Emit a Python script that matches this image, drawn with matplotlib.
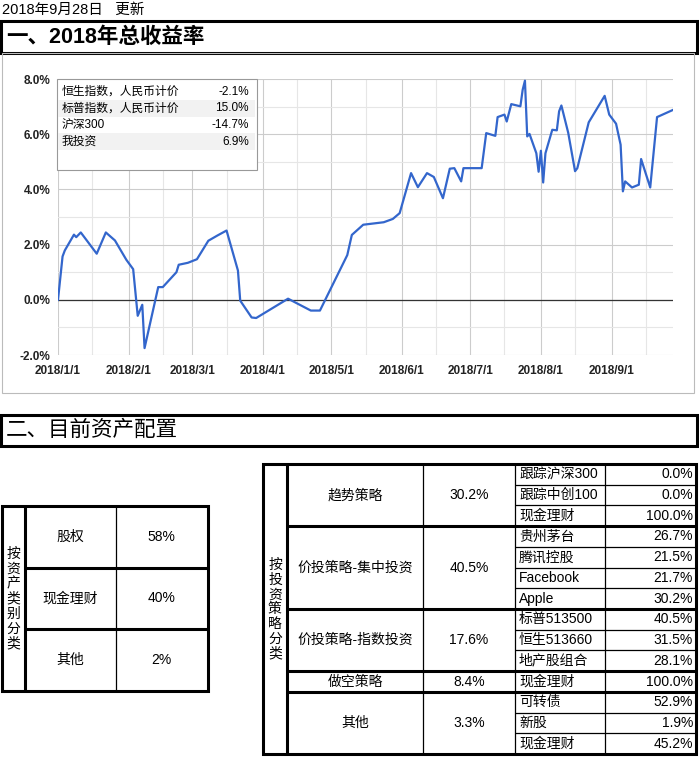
import numpy as np
import pandas as pd
import matplotlib
matplotlib.use("Agg")
import matplotlib.pyplot as plt
from matplotlib.patches import Rectangle

plt.rcParams["font.family"] = ["Liberation Sans", "Noto Sans CJK SC", "DejaVu Sans"]

# ---- data ----
update_text = "2018年9月28日   更新"
title_1 = "一、2018年总收益率"
title_2 = "二、目前资产配置"

dates = [
    "2018-01-01", "2018-01-03", "2018-01-04", "2018-01-08", "2018-01-09", "2018-01-11",
    "2018-01-18", "2018-01-22", "2018-01-26", "2018-01-31", "2018-02-03", "2018-02-05",
    "2018-02-07", "2018-02-08", "2018-02-14", "2018-02-16", "2018-02-22", "2018-02-23",
    "2018-02-27", "2018-03-03", "2018-03-08", "2018-03-12", "2018-03-16", "2018-03-21",
    "2018-03-22", "2018-03-27", "2018-03-29", "2018-04-12", "2018-04-22", "2018-04-26",
    "2018-05-08", "2018-05-10", "2018-05-15", "2018-05-24", "2018-05-28", "2018-05-31",
    "2018-06-05", "2018-06-08", "2018-06-12", "2018-06-15", "2018-06-19", "2018-06-22",
    "2018-06-24", "2018-06-27", "2018-06-28", "2018-07-06", "2018-07-08", "2018-07-12",
    "2018-07-13", "2018-07-16", "2018-07-17", "2018-07-19", "2018-07-23", "2018-07-24",
    "2018-07-25", "2018-07-26", "2018-07-27", "2018-07-30", "2018-07-31", "2018-08-01",
    "2018-08-02", "2018-08-03", "2018-08-06", "2018-08-08", "2018-08-09", "2018-08-10",
    "2018-08-13", "2018-08-16", "2018-08-17", "2018-08-22", "2018-08-29", "2018-08-31",
    "2018-09-03", "2018-09-05", "2018-09-06", "2018-09-07", "2018-09-10", "2018-09-13",
    "2018-09-14", "2018-09-18", "2018-09-21", "2018-09-28",
]
returns = [
    0.00, 1.57, 1.79, 2.36, 2.27, 2.44,
    1.67, 2.44, 2.15, 1.45, 1.11, -0.58,
    -0.18, -1.75, 0.46, 0.46, 1.00, 1.27,
    1.34, 1.47, 2.14, 2.33, 2.51, 1.06,
    -0.03, -0.64, -0.66, 0.04, -0.39, -0.39,
    1.62, 2.35, 2.72, 2.81, 2.93, 3.14,
    4.59, 4.08, 4.59, 4.45, 3.68, 4.75,
    4.77, 4.29, 4.77, 4.77, 6.04, 5.94,
    6.62, 6.71, 6.46, 7.09, 7.01, 7.61,
    7.94, 5.92, 6.01, 5.31, 4.64, 5.40,
    4.25, 5.31, 6.16, 6.14, 6.83, 7.04,
    6.05, 4.66, 4.77, 6.43, 7.39, 6.71,
    6.38, 5.62, 3.93, 4.29, 4.07, 4.17,
    5.10, 4.07, 6.62, 6.88,
]

legend_names = ["恒生指数，人民币计价", "标普指数，人民币计价", "沪深300", "我投资"]
legend_values = ["-2.1%", "15.0%", "-14.7%", "6.9%"]

asset_label = "按资产类别分类"
asset_names = ["股权", "现金理财", "其他"]
asset_pcts = ["58%", "40%", "2%"]

strategy_label = "按投资策略分类"
strategy_names = ["趋势策略", "价投策略-集中投资", "价投策略-指数投资", "做空策略", "其他"]
strategy_pcts = ["30.2%", "40.5%", "17.6%", "8.4%", "3.3%"]
sub_names = [
    ["跟踪沪深300", "跟踪中创100", "现金理财"],
    ["贵州茅台", "腾讯控股", "Facebook", "Apple"],
    ["标普513500", "恒生513660", "地产股组合"],
    ["现金理财"],
    ["可转债", "新股", "现金理财"],
]
sub_pcts = [
    ["0.0%", "0.0%", "100.0%"],
    ["26.7%", "21.5%", "21.7%", "30.2%"],
    ["40.5%", "31.5%", "28.1%"],
    ["100.0%"],
    ["52.9%", "1.9%", "45.2%"],
]

# ---- layout (pixels) ----
W, H = 699, 759
THICK = 2.2
THIN = 0.9

fig = plt.figure(figsize=(W / 100, H / 100), dpi=100)
bg = fig.add_axes([0, 0, 1, 1])
bg.set_xlim(0, W)
bg.set_ylim(H, 0)
bg.axis("off")


def box(ax, x0, y0, x1, y1, lw, color="black", fill=False, fc="white"):
    ax.add_patch(Rectangle((x0, y0), x1 - x0, y1 - y0, fill=fill, fc=fc,
                           lw=lw, ec=color))


def hline(ax, y, x0, x1, lw):
    ax.plot([x0, x1], [y, y], color="black", lw=lw, solid_capstyle="butt")


def vline(ax, x, y0, y1, lw):
    ax.plot([x, x], [y0, y1], color="black", lw=lw, solid_capstyle="butt")


def vertical_text(ax, x, yc, s, step, size):
    n = len(s)
    for i, ch in enumerate(s):
        ax.text(x, yc + (i - (n - 1) / 2) * step, ch, ha="center", va="center",
                fontsize=size)


# header
bg.text(2, 10, update_text, fontsize=10.5, va="center")
box(bg, 1, 21, 697, 53, THICK)
bg.text(6, 37.5, title_1, fontsize=15.5, weight="bold", va="center")
box(bg, 2, 53, 694, 393, 0.8, color="#bbbbbb")

# ---- line chart ----
ax = fig.add_axes([58 / W, 1 - 355 / H, 615 / W, 276 / H])
d = pd.to_datetime(dates)
ax.set_xlim(pd.Timestamp("2018-01-01"), pd.Timestamp("2018-09-28"))
ax.set_ylim(-2, 8)
for m in range(1, 10):
    ax.axvline(pd.Timestamp(2018, m, 1), color="#cccccc", lw=0.8, zorder=0)
    ax.axvline(pd.Timestamp(2018, m, 16), color="#e6e6e6", lw=0.8, zorder=0)
for v in range(-2, 9):
    ax.axhline(v, color="#cccccc" if v % 2 == 0 else "#e6e6e6", lw=0.8, zorder=0)
ax.axhline(0, color="#333333", lw=0.9, zorder=1)
ax.plot(d, returns, color="#3366cc", lw=1.6, zorder=3)
for s in ax.spines.values():
    s.set_visible(False)
yt = [-2, 0, 2, 4, 6, 8]
ax.set_yticks(yt)
ax.set_yticklabels([f"{v:.1f}%" for v in yt])
xt = [pd.Timestamp(2018, m, 1) for m in range(1, 10)]
ax.set_xticks(xt)
ax.set_xticklabels([f"{t.year}/{t.month}/{t.day}" for t in xt])
ax.tick_params(length=0, labelsize=8.5, labelcolor="#222222")
ax.tick_params(axis="y", pad=5.5)
ax.tick_params(axis="x", pad=7)
for lab in ax.get_xticklabels() + ax.get_yticklabels():
    lab.set_fontweight("bold")

# ---- legend overlay ----
top = fig.add_axes([0, 0, 1, 1], facecolor="none")
top.set_xlim(0, W)
top.set_ylim(H, 0)
top.axis("off")
box(top, 57, 79, 257, 170, 0.8, color="#999999", fill=True)
row_h = 16.7
for i, (nm, val) in enumerate(zip(legend_names, legend_values)):
    y0 = 83.3 + i * row_h
    if i % 2 == 1:
        top.add_patch(Rectangle((58, y0), 197, row_h, fc="#f2f2f2", ec="none"))
    top.text(61.5, y0 + row_h / 2, nm, fontsize=8.5, va="center", ha="left")
    top.text(249, y0 + row_h / 2, val, fontsize=8.5, va="center", ha="right")

# ---- section 2 ----
box(bg, 1, 415, 697, 446, THICK)
bg.text(6, 430.5, title_2, fontsize=15.5, va="center")

# left table
lx0, lx1, lc1, lc2 = 1.5, 207.5, 25, 116
ly0, ly1 = 506, 691
lrow = (ly1 - ly0) / len(asset_names)
box(bg, lx0, ly0, lx1, ly1, THICK)
vline(bg, lc1, ly0, ly1, THICK)
vline(bg, lc2, ly0, ly1, THIN)
for i in range(1, len(asset_names)):
    hline(bg, ly0 + i * lrow, lc1, lx1, THICK)
vertical_text(bg, 13, (ly0 + ly1) / 2, asset_label, 15, 10)
for i, (nm, p) in enumerate(zip(asset_names, asset_pcts)):
    yc = ly0 + (i + 0.5) * lrow
    bg.text((lc1 + lc2) / 2, yc, nm, fontsize=10, ha="center", va="center")
    bg.text((lc2 + lx1) / 2, yc, p, fontsize=10, ha="center", va="center")

# right table
rx0, rx1 = 263, 696
rc1, rc2, rc3, rc4 = 287, 423, 515, 605
ry0, ry1 = 464, 754
n_rows = sum(len(s) for s in sub_names)
rrow = (ry1 - ry0) / n_rows
box(bg, rx0, ry0, rx1, ry1, THICK)
vline(bg, rc1, ry0, ry1, THICK)
for x in (rc2, rc3, rc4):
    vline(bg, x, ry0, ry1, THIN)
vertical_text(bg, 275, (ry0 + ry1) / 2, strategy_label, 14.7, 10)
k = 0
for g, (nm, p) in enumerate(zip(strategy_names, strategy_pcts)):
    n = len(sub_names[g])
    gy0 = ry0 + k * rrow
    gy1 = gy0 + n * rrow
    if g > 0:
        hline(bg, gy0, rc1, rx1, THICK)
    bg.text((rc1 + rc2) / 2, (gy0 + gy1) / 2, nm, fontsize=10, ha="center", va="center")
    bg.text((rc2 + rc3) / 2, (gy0 + gy1) / 2, p, fontsize=10, ha="center", va="center")
    for j in range(n):
        yy = gy0 + j * rrow
        if j > 0:
            hline(bg, yy, rc3, rx1, THIN)
        bg.text(rc3 + 4, yy + rrow / 2, sub_names[g][j], fontsize=10, ha="left", va="center")
        bg.text(rx1 - 3, yy + rrow / 2, sub_pcts[g][j], fontsize=10, ha="right", va="center")
    k += n

fig.savefig("out.png", dpi=100)
